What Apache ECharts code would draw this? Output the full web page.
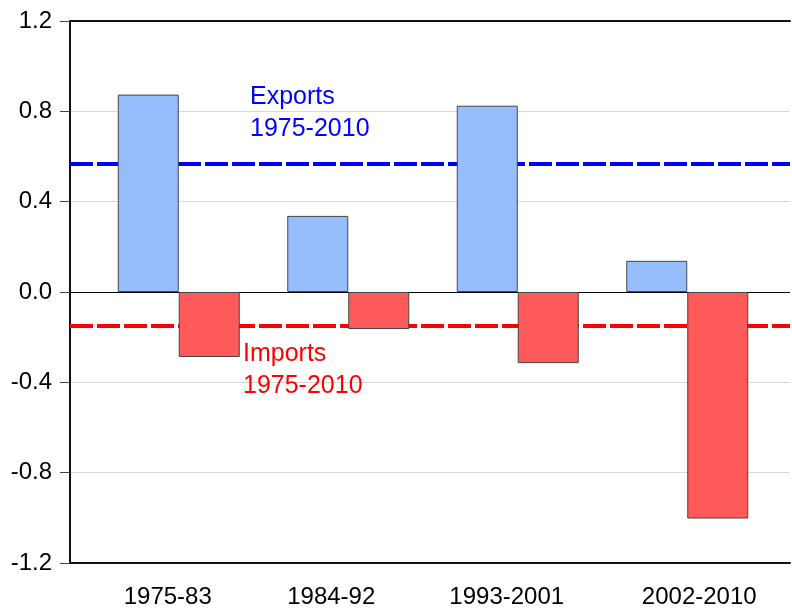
<!DOCTYPE html>
<html>
<head>
<meta charset="utf-8">
<script src="https://cdn.jsdelivr.net/npm/echarts@6/dist/echarts.min.js"></script>
<style>
  html, body { margin: 0; padding: 0; background: #fff; }
  #chart { width: 792px; height: 611px; }
</style>
</head>
<body>
<div id="chart"></div>
<script>
// data
const periods = ['1975-83', '1984-92', '1993-2001', '2002-2010'];
const exportsVals = [0.874, 0.337, 0.825, 0.138];
const importsVals = [-0.288, -0.164, -0.315, -1.003];
const exportsAvg = 0.572;
const importsAvg = -0.146;

const chart = echarts.init(document.getElementById('chart'));

const font = 'Arial, "Liberation Sans", sans-serif';

// label nudges, the original does not centre them under the bars
const labelRich = {
    p0: { padding: [0, 22, 0, 0] },
    p1: { padding: [0, 34, 0, 0] },
    p2: { padding: [0, 22, 0, 0] },
    p3: { padding: [0, 0, 0, 24] }
};

const option = {
    animation: false,
    grid: [
        // frame, gridlines, average lines
        { left: 70, right: 2, top: 21, bottom: 48 },
        // bars and period labels
        { left: 94, right: 20, top: 21, bottom: 48 }
    ],
    xAxis: [{
        type: 'value',
        gridIndex: 0,
        min: 0,
        max: 1,
        position: 'bottom',
        axisLine: { show: true, onZero: false, lineStyle: { color: '#111', width: 2 } },
        axisTick: { show: false },
        axisLabel: { show: false },
        splitLine: { show: false }
    }, {
        type: 'value',
        gridIndex: 0,
        min: 0,
        max: 1,
        position: 'top',
        axisLine: { show: true, onZero: false, lineStyle: { color: '#111', width: 2 } },
        axisTick: { show: false },
        axisLabel: { show: false },
        splitLine: { show: false }
    }, {
        type: 'category',
        gridIndex: 1,
        data: periods,
        axisLine: { show: false },
        axisTick: { show: false },
        axisLabel: {
            color: '#000',
            fontSize: 24,
            fontFamily: font,
            margin: 22,
            interval: 0,
            hideOverlap: false,
            formatter: (v, i) => '{p' + i + '|' + v + '}',
            rich: labelRich
        }
    }],
    yAxis: [{
        type: 'value',
        gridIndex: 0,
        min: -1.2,
        max: 1.2,
        interval: 0.4,
        axisLine: { show: true, lineStyle: { color: '#111', width: 2 } },
        axisTick: { show: true, inside: false, length: 10, lineStyle: { color: '#444' } },
        axisLabel: {
            color: '#000',
            fontSize: 24,
            fontFamily: font,
            margin: 18,
            formatter: v => v.toFixed(1)
        },
        splitLine: { lineStyle: { color: '#d9d9d9', width: 1 } }
    }, {
        type: 'value',
        gridIndex: 1,
        min: -1.2,
        max: 1.2,
        interval: 0.4,
        show: false
    }],
    series: [{
        name: 'lines',
        type: 'line',
        xAxisIndex: 0,
        yAxisIndex: 0,
        data: [],
        z: 1,
        markLine: {
            silent: true,
            symbol: 'none',
            z: 1,
            label: { show: false },
            data: [
                { yAxis: exportsAvg, lineStyle: { color: '#0000ff', width: 4, type: [23, 4] } },
                { yAxis: importsAvg, lineStyle: { color: '#ff0000', width: 4, type: [23, 4] } },
                { yAxis: 0, lineStyle: { color: '#000', width: 1, type: 'solid' } }
            ]
        }
    }, {
        name: 'Exports',
        type: 'bar',
        xAxisIndex: 2,
        yAxisIndex: 1,
        data: exportsVals,
        barWidth: 61,
        barGap: '0%',
        z: 6,
        itemStyle: { color: '#96BEFF', borderColor: '#444', borderWidth: 1 }
    }, {
        name: 'Imports',
        type: 'bar',
        xAxisIndex: 2,
        yAxisIndex: 1,
        data: importsVals,
        barWidth: 61,
        barGap: '0%',
        z: 6,
        itemStyle: { color: '#FF5A5A', borderColor: '#444', borderWidth: 1 }
    }],
    graphic: [{
        type: 'text',
        left: 250,
        top: 81,
        z: 10,
        style: { text: 'Exports\n1975-2010', fill: '#0000ff', font: '25px ' + font, lineHeight: 32 }
    }, {
        type: 'text',
        left: 243,
        top: 338,
        z: 10,
        style: { text: 'Imports\n1975-2010', fill: '#ff0000', font: '25px ' + font, lineHeight: 32 }
    }]
};

chart.setOption(option);
</script>
</body>
</html>
